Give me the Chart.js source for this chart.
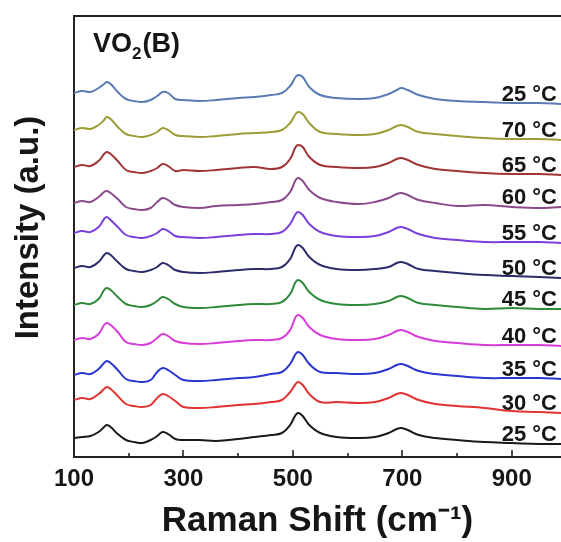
<!DOCTYPE html>
<html>
<head>
<meta charset="utf-8">
<script src="https://cdn.jsdelivr.net/npm/chart.js@4.4.0/dist/chart.umd.min.js"></script>
<style>
  html, body { margin: 0; padding: 0; background: #ffffff; }
  #wrap { width: 561px; height: 542px; }
</style>
</head>
<body>
<div id="wrap"><canvas id="c" width="561" height="542"></canvas></div>
<script>
// Raman shift sample positions (cm^-1)
const ramanShift = [100,115,130,145,155,160,167,180,195,210,225,240,252,262,272,285,300,330,360,400,430,460,480,495,505,510,518,530,550,580,620,650,675,690,698,710,730,760,800,850,900,950,990];

// Series labels (top to bottom in the stack)
const seriesLabels = ['25 °C','70 °C','65 °C','60 °C','55 °C','50 °C','45 °C','40 °C','35 °C','30 °C','25 °C'];

// Intensity (a.u., stacked with offsets as in the figure)
const s25b = [364,366,365,369,373,375,373,365,358,356,355,357,361,365,364,358,357,356,357,359,360,362,364,371,380,382,380,370,362,359,358,359,363,367,369,367,362,358,356,355,354,354,353];
const s70  = [327,329,328,332,337,340,338,330,323,321,320,322,325,329,327,322,321,320,321,323,324,325,327,334,343,345,343,334,325,323,322,323,327,331,332,330,325,323,321,319,318,318,317];
const s65  = [290,292,291,296,303,305,303,296,287,285,284,286,289,293,291,286,287,286,287,289,290,288,290,298,310,312,310,300,292,290,289,290,294,298,299,297,292,288,286,284,283,283,282];
const s60  = [254,256,255,260,265,266,264,258,250,248,247,249,255,259,257,252,250,249,251,252,253,255,257,265,277,279,276,267,259,255,253,255,259,263,264,262,257,254,251,252,250,249,250];
const s55  = [224,226,225,230,238,240,237,230,222,220,219,221,224,228,226,221,220,219,220,222,223,223,225,233,243,245,242,233,225,221,220,221,225,229,230,228,223,219,217,215,215,215,214];
const s50  = [189,191,190,195,202,204,202,195,188,186,185,187,190,194,192,187,185,184,185,187,188,188,190,198,210,212,209,200,192,188,187,188,190,194,195,193,188,186,184,182,181,180,179];
const s45  = [152,154,153,158,167,169,167,160,153,151,150,152,156,160,158,153,150,149,150,152,153,153,155,163,175,177,174,165,157,153,152,153,156,160,161,159,154,152,150,148,149,148,148];
const s40  = [117,119,118,123,132,134,132,125,115,113,112,114,119,123,121,116,114,113,114,116,117,117,119,127,140,142,139,130,122,118,117,118,122,126,127,125,120,116,114,112,112,112,111];
const s35  = [82,84,83,88,94,96,94,87,78,76,75,77,85,89,87,82,77,76,77,79,80,83,85,93,103,105,102,93,85,84,83,84,88,92,93,91,86,83,81,79,79,79,78];
const s30  = [57,59,58,63,68,70,68,61,53,51,50,52,59,63,61,56,50,49,50,52,53,55,57,65,73,75,72,63,55,55,54,55,59,63,64,62,57,53,51,49,46,45,44];
const s25a = [19,20,21,25,30,32,30,23,17,15,14,17,21,25,23,18,17,17,16,18,20,22,24,32,42,44,41,32,24,20,19,20,24,28,29,27,22,19,17,15,14,13,13];

const seriesValues = [s25b, s70, s65, s60, s55, s50, s45, s40, s35, s30, s25a];
const seriesColors = ['#5a7bb3','#9d9d38','#a13434','#8a4a8c','#7a40dc','#2c2c6c','#2f8a3a','#d83cd8','#2a36d0','#e23232','#1a1a1a'];

// x-axis ticks
const majorTicks = [100,300,500,700,900];
const minorTicks = [200,400,600,800];

const FONT = "'Liberation Sans', Arial, Helvetica, sans-serif";
const INK = '#161616';
const Y_TITLE = 'Intensity (a.u.)';

const datasets = seriesValues.map((vals, i) => ({
  label: seriesLabels[i],
  data: ramanShift.map((x, j) => ({ x: x, y: vals[j] })),
  borderColor: seriesColors[i],
  borderWidth: 2,
  pointRadius: 0,
  fill: false,
  tension: 0.4
}));

const decorPlugin = {
  id: 'decor',
  afterDatasetsDraw(chart) {
    const ctx = chart.ctx;
    const xs = chart.scales.x, ys = chart.scales.y;
    const a = chart.chartArea;
    ctx.save();
    // top frame line
    ctx.strokeStyle = '#222';
    ctx.lineWidth = 2;
    ctx.beginPath();
    ctx.moveTo(a.left - 1, a.top);
    ctx.lineTo(a.right, a.top);
    ctx.stroke();
    // inward tick marks
    ctx.lineWidth = 1.6;
    majorTicks.forEach(v => {
      const px = Math.round(xs.getPixelForValue(v));
      ctx.beginPath(); ctx.moveTo(px, a.bottom); ctx.lineTo(px, a.bottom - 7); ctx.stroke();
    });
    minorTicks.forEach(v => {
      const px = Math.round(xs.getPixelForValue(v));
      ctx.beginPath(); ctx.moveTo(px, a.bottom); ctx.lineTo(px, a.bottom - 4); ctx.stroke();
    });
    // series labels
    ctx.fillStyle = INK;
    ctx.font = 'bold 22px ' + FONT;
    ctx.textAlign = 'right';
    ctx.textBaseline = 'middle';
    chart.data.datasets.forEach((ds) => {
      const last = ds.data[ds.data.length - 1].y;
      const py = ys.getPixelForValue(last) - 9;
      ctx.fillText(ds.label, 557, py);
    });
    // sample name VO2(B)
    ctx.textAlign = 'left';
    ctx.textBaseline = 'alphabetic';
    const tx = a.left + 19, ty = a.top + 36;
    ctx.font = 'bold 27px ' + FONT;
    ctx.fillText('VO', tx, ty);
    let w = ctx.measureText('VO').width;
    ctx.font = 'bold 17px ' + FONT;
    ctx.fillText('2', tx + w, ty + 7);
    w += ctx.measureText('2').width + 1;
    ctx.font = 'bold 27px ' + FONT;
    ctx.fillText('(B)', tx + w, ty);
    // y-axis title
    ctx.save();
    ctx.translate(29, (a.top + a.bottom) / 2 - 9);
    ctx.rotate(-Math.PI / 2);
    ctx.textAlign = 'center';
    ctx.textBaseline = 'middle';
    ctx.font = 'bold 33px ' + FONT;
    ctx.fillText(Y_TITLE, 0, 0);
    ctx.restore();
    ctx.restore();
  }
};

new Chart(document.getElementById('c'), {
  type: 'line',
  data: { datasets },
  options: {
    responsive: false,
    animation: false,
    devicePixelRatio: 1,
    layout: { padding: { top: 16, left: 0, right: 0, bottom: 0 } },
    plugins: { legend: { display: false }, tooltip: { enabled: false } },
    scales: {
      x: {
        type: 'linear',
        min: 100,
        max: 990,
        afterFit: s => { s.height = 85; },
        afterBuildTicks: s => { s.ticks = majorTicks.concat(minorTicks).sort((a,b)=>a-b).map(v => ({ value: v })); },
        grid: { display: false, drawTicks: false },
        border: { display: true, color: '#222', width: 2 },
        ticks: {
          autoSkip: false,
          maxRotation: 0,
          padding: 8,
          color: INK,
          font: { family: FONT, size: 24, weight: 'bold' },
          callback: v => majorTicks.includes(v) ? String(v) : ''
        },
        title: {
          display: true,
          text: 'Raman Shift (cm⁻¹)',
          color: INK,
          font: { family: FONT, size: 35, weight: 'bold' },
          padding: { top: 0, bottom: 0 }
        }
      },
      y: {
        type: 'linear',
        min: 0,
        max: 441,
        afterFit: s => { s.width = 74; },
        grid: { display: false, drawTicks: false },
        border: { display: true, color: '#222', width: 2 },
        ticks: { display: false },
        title: { display: false, text: Y_TITLE }
      }
    }
  },
  plugins: [decorPlugin]
});
</script>
</body>
</html>
